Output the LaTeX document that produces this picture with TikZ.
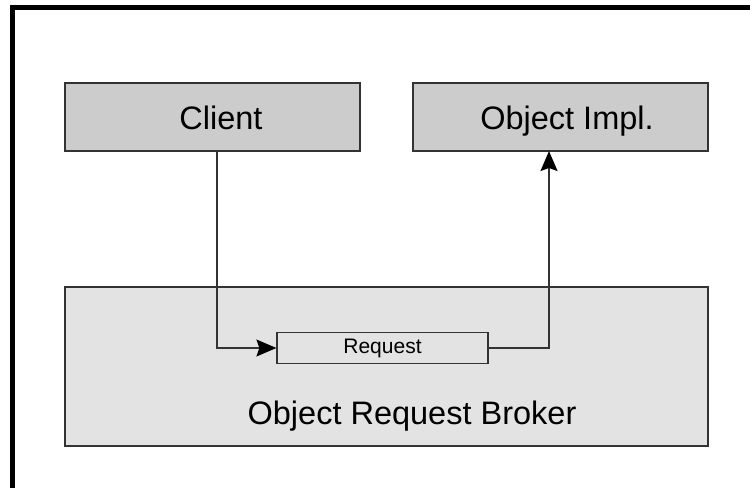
\documentclass[tikz,border=0pt]{standalone}
\usepackage{fontspec}
\setmainfont{Liberation Sans}
\usetikzlibrary{arrows.meta}
\definecolor{boxdark}{HTML}{CCCCCC}
\definecolor{boxlight}{HTML}{E3E3E3}
\definecolor{edge}{HTML}{333333}
\begin{document}
\begin{tikzpicture}[x=1pt,y=-1pt,
  box/.style={draw=edge, line width=1.5pt},
  bigtext/.style={font=\fontsize{32.5}{36}\selectfont, anchor=base},
  link/.style={draw=edge, line width=1.4pt, -{Stealth[length=20pt,width=17pt,inset=3pt,fill=black,color=black]}}]
  \useasboundingbox (0,0) rectangle (750,488);
  % outer frame (left and top edges)
  \draw[line width=5pt] (12.5,488) -- (12.5,7.5) -- (752,7.5);
  % boxes
  \draw[box, fill=boxdark] (65,83) rectangle (360,151);
  \draw[box, fill=boxdark] (413,83) rectangle (708,151);
  \draw[box, fill=boxlight] (65,287) rectangle (708,446);
  \node[draw=edge, line width=1.2pt, fill=boxlight, minimum width=211pt, minimum height=31pt, inner sep=0pt,
        font=\fontsize{21}{24}\selectfont] (req) at (382.5,348) {Request};
  % labels
  \node[bigtext] (client) at (221,129) {Client};
  \node[bigtext] (impl) at (567,129) {Object Impl.};
  \node[bigtext] (orb) at (412,424) {Object Request Broker};
  % anchor points on the box edges
  \coordinate (cbot) at (217,151);
  \coordinate (ibot) at (549,151);
  \draw[link] (cbot) |- (req.west);
  \draw[link] (req.east) -| (ibot);
\end{tikzpicture}
\end{document}
